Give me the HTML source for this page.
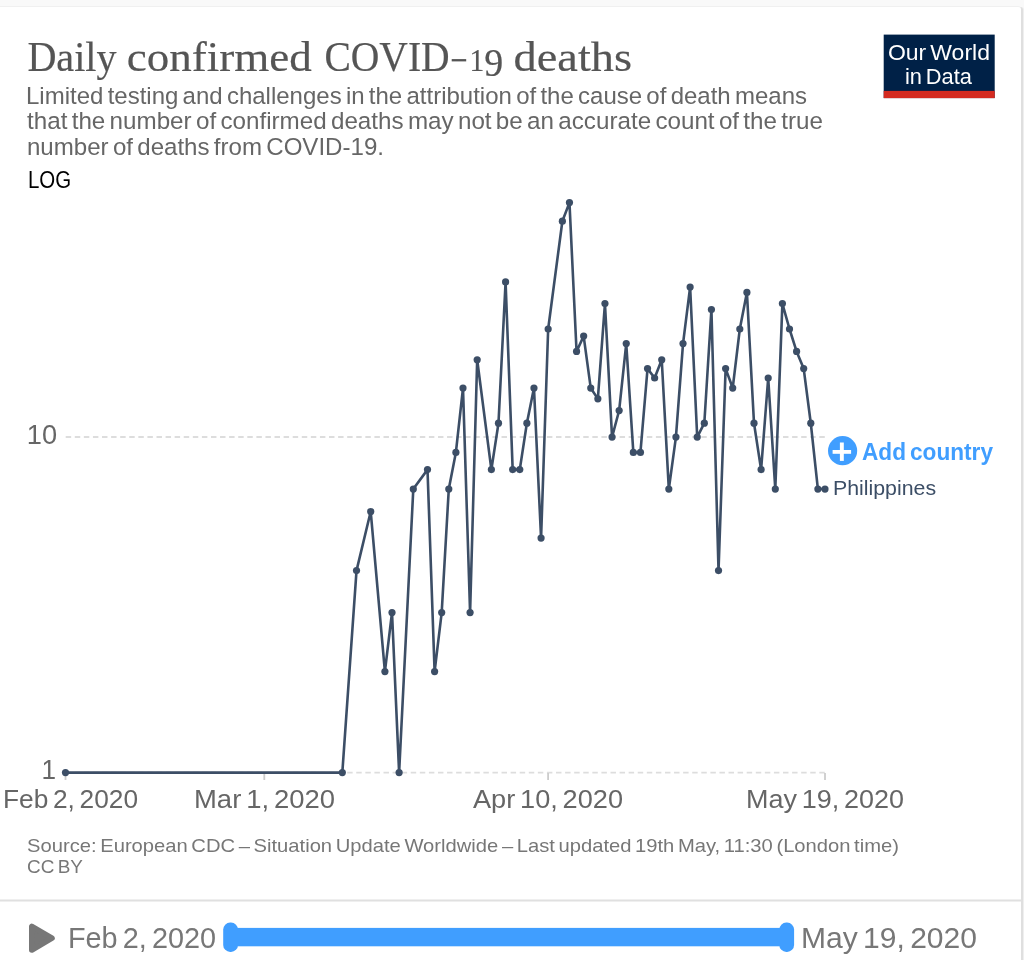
<!DOCTYPE html>
<html><head><meta charset="utf-8"><style>
html,body{margin:0;padding:0;background:#f9f9f9;}
body{width:1024px;height:960px;overflow:hidden;position:relative;}
.card{position:absolute;left:-10px;top:7px;width:1031px;height:1000px;background:#fff;border-radius:3px;box-shadow:0 -1px 0 #f0f0f0,2px 0 0 #dfdfdf,3px 0 0 #efefef;}
svg{position:absolute;left:0;top:0;will-change:transform;}
text{font-family:"Liberation Sans",sans-serif;word-spacing:-0.1em;}
text.serif{font-family:"Liberation Serif",serif;stroke:#555;stroke-width:0.2px;}
</style></head><body>
<div class="card"></div>
<svg width="1024" height="960" viewBox="0 0 1024 960">
<text id="t_daily" x="27.39" y="71.2" font-size="43" fill="#555" class="serif" textLength="89.22" lengthAdjust="spacingAndGlyphs">Daily</text><text id="t_confirmed" x="126.80" y="71.2" font-size="43" fill="#555" class="serif" textLength="185.01" lengthAdjust="spacingAndGlyphs">confirmed</text><text id="t_covid" x="324.38" y="71.2" font-size="43" fill="#555" class="serif" textLength="125.28" lengthAdjust="spacingAndGlyphs">COVID</text>
<rect x="451.7" y="59.1" width="14.5" height="2.3" fill="#555"/>
<text id="t_1" x="469.51" y="70.9" font-size="30.6" fill="#555" class="serif" textLength="14.75" lengthAdjust="spacingAndGlyphs">1</text><text id="t_9" x="484.28" y="76.4" font-size="39" fill="#555" class="serif" textLength="18.92" lengthAdjust="spacingAndGlyphs">9</text><text id="t_deaths" x="513.56" y="71.2" font-size="43" fill="#555" class="serif" textLength="118.46" lengthAdjust="spacingAndGlyphs">deaths</text>
<text id="sub1" x="26.00" y="104.1" font-size="23.9" fill="#666"  textLength="781.00" lengthAdjust="spacingAndGlyphs">Limited testing and challenges in the attribution of the cause of death means</text>
<text id="sub2" x="27.00" y="129.2" font-size="23.9" fill="#666"  textLength="796.00" lengthAdjust="spacingAndGlyphs">that the number of confirmed deaths may not be an accurate count of the true</text>
<text id="sub3" x="26.99" y="154.5" font-size="23.9" fill="#666"  textLength="357.00" lengthAdjust="spacingAndGlyphs">number of deaths from COVID-19.</text>
<text id="log" x="27.91" y="187.5" font-size="23.3" fill="#000"  textLength="43.18" lengthAdjust="spacingAndGlyphs">LOG</text>
<rect x="883.7" y="34.6" width="111" height="63.5" fill="#002147"/>
<rect x="883.7" y="90.9" width="111" height="7.2" fill="#d42b21"/>
<text id="ourworld" x="887.95" y="59.9" font-size="22.5" fill="#fff"  textLength="102.02" lengthAdjust="spacingAndGlyphs">Our World</text>
<text id="indata" x="904.96" y="84.1" font-size="22.5" fill="#fff"  textLength="67.04" lengthAdjust="spacingAndGlyphs">in Data</text>
<g stroke="#ddd" stroke-width="1.8" stroke-dasharray="5.45,3.63">
<line x1="65.7" y1="437" x2="825.5" y2="437"/>
<line x1="65.7" y1="772.7" x2="825.5" y2="772.7"/>
</g>
<g stroke="#ccc" stroke-width="1.8">
<line x1="65.5" y1="773" x2="65.5" y2="780"/>
<line x1="264.3" y1="773" x2="264.3" y2="780"/>
<line x1="548.1" y1="773" x2="548.1" y2="780"/>
<line x1="825.0" y1="773" x2="825.0" y2="780"/>
</g>
<text id="y10" x="26.82" y="443.6" font-size="28" fill="#666"  textLength="30.27" lengthAdjust="spacingAndGlyphs">10</text><text id="y1" x="41.60" y="779.4" font-size="28" fill="#666"  textLength="14.53" lengthAdjust="spacingAndGlyphs">1</text>
<text id="xfeb" x="2.96" y="808.1" font-size="26" fill="#666"  textLength="135.06" lengthAdjust="spacingAndGlyphs">Feb 2, 2020</text><text id="xmar" x="193.99" y="808.1" font-size="26" fill="#666"  textLength="141.06" lengthAdjust="spacingAndGlyphs">Mar 1, 2020</text><text id="xapr" x="472.99" y="808.1" font-size="26" fill="#666"  textLength="150.02" lengthAdjust="spacingAndGlyphs">Apr 10, 2020</text><text id="xmay" x="745.95" y="808.1" font-size="26" fill="#666"  textLength="158.05" lengthAdjust="spacingAndGlyphs">May 19, 2020</text>
<path d="M65.50,772.60 L342.32,772.60 L356.52,570.61 L370.71,511.53 L384.91,671.60 L392.01,612.53 L399.11,772.60 L413.30,489.07 L427.50,469.61 L434.60,671.60 L441.69,612.53 L448.79,489.07 L455.89,452.45 L462.99,388.07 L470.09,612.53 L477.18,359.78 L491.38,469.61 L498.48,423.21 L505.58,281.97 L512.67,469.61 L519.77,469.61 L526.87,423.21 L533.97,388.07 L541.07,538.10 L548.16,329.00 L562.36,221.22 L569.46,202.60 L576.56,351.46 L583.65,336.10 L590.75,388.07 L597.85,398.87 L604.95,303.59 L612.05,437.10 L619.14,410.53 L626.24,343.58 L633.34,452.45 L640.44,452.45 L647.54,368.62 L654.63,378.02 L661.73,359.78 L668.83,489.07 L675.93,437.10 L683.03,343.58 L690.12,287.08 L697.22,437.10 L704.32,423.21 L711.42,309.54 L718.52,570.61 L725.61,368.62 L732.71,388.07 L739.81,329.00 L746.91,292.38 L754.01,423.21 L761.10,469.61 L768.20,378.02 L775.30,489.07 L782.40,303.59 L789.50,329.00 L796.59,351.46 L803.69,368.62 L810.79,423.21 L817.89,489.07 L824.99,489.07" fill="none" stroke="#3c4e66" stroke-width="2.6" stroke-linejoin="round"/>
<g fill="#3c4e66"><circle cx="65.50" cy="772.60" r="3.6"/><circle cx="342.32" cy="772.60" r="3.6"/><circle cx="356.52" cy="570.61" r="3.6"/><circle cx="370.71" cy="511.53" r="3.6"/><circle cx="384.91" cy="671.60" r="3.6"/><circle cx="392.01" cy="612.53" r="3.6"/><circle cx="399.11" cy="772.60" r="3.6"/><circle cx="413.30" cy="489.07" r="3.6"/><circle cx="427.50" cy="469.61" r="3.6"/><circle cx="434.60" cy="671.60" r="3.6"/><circle cx="441.69" cy="612.53" r="3.6"/><circle cx="448.79" cy="489.07" r="3.6"/><circle cx="455.89" cy="452.45" r="3.6"/><circle cx="462.99" cy="388.07" r="3.6"/><circle cx="470.09" cy="612.53" r="3.6"/><circle cx="477.18" cy="359.78" r="3.6"/><circle cx="491.38" cy="469.61" r="3.6"/><circle cx="498.48" cy="423.21" r="3.6"/><circle cx="505.58" cy="281.97" r="3.6"/><circle cx="512.67" cy="469.61" r="3.6"/><circle cx="519.77" cy="469.61" r="3.6"/><circle cx="526.87" cy="423.21" r="3.6"/><circle cx="533.97" cy="388.07" r="3.6"/><circle cx="541.07" cy="538.10" r="3.6"/><circle cx="548.16" cy="329.00" r="3.6"/><circle cx="562.36" cy="221.22" r="3.6"/><circle cx="569.46" cy="202.60" r="3.6"/><circle cx="576.56" cy="351.46" r="3.6"/><circle cx="583.65" cy="336.10" r="3.6"/><circle cx="590.75" cy="388.07" r="3.6"/><circle cx="597.85" cy="398.87" r="3.6"/><circle cx="604.95" cy="303.59" r="3.6"/><circle cx="612.05" cy="437.10" r="3.6"/><circle cx="619.14" cy="410.53" r="3.6"/><circle cx="626.24" cy="343.58" r="3.6"/><circle cx="633.34" cy="452.45" r="3.6"/><circle cx="640.44" cy="452.45" r="3.6"/><circle cx="647.54" cy="368.62" r="3.6"/><circle cx="654.63" cy="378.02" r="3.6"/><circle cx="661.73" cy="359.78" r="3.6"/><circle cx="668.83" cy="489.07" r="3.6"/><circle cx="675.93" cy="437.10" r="3.6"/><circle cx="683.03" cy="343.58" r="3.6"/><circle cx="690.12" cy="287.08" r="3.6"/><circle cx="697.22" cy="437.10" r="3.6"/><circle cx="704.32" cy="423.21" r="3.6"/><circle cx="711.42" cy="309.54" r="3.6"/><circle cx="718.52" cy="570.61" r="3.6"/><circle cx="725.61" cy="368.62" r="3.6"/><circle cx="732.71" cy="388.07" r="3.6"/><circle cx="739.81" cy="329.00" r="3.6"/><circle cx="746.91" cy="292.38" r="3.6"/><circle cx="754.01" cy="423.21" r="3.6"/><circle cx="761.10" cy="469.61" r="3.6"/><circle cx="768.20" cy="378.02" r="3.6"/><circle cx="775.30" cy="489.07" r="3.6"/><circle cx="782.40" cy="303.59" r="3.6"/><circle cx="789.50" cy="329.00" r="3.6"/><circle cx="796.59" cy="351.46" r="3.6"/><circle cx="803.69" cy="368.62" r="3.6"/><circle cx="810.79" cy="423.21" r="3.6"/><circle cx="817.89" cy="489.07" r="3.6"/><circle cx="824.99" cy="489.07" r="3.6"/></g>
<circle cx="842.6" cy="450.7" r="14.6" fill="#409eff"/>
<rect x="832.6" y="450.0" width="18.5" height="3.8" fill="#fff"/>
<rect x="839.9" y="442.5" width="3.9" height="18.4" fill="#fff"/>
<text id="addc" x="861.99" y="459.5" font-size="23.5" fill="#409eff" font-weight="bold" textLength="131.01" lengthAdjust="spacingAndGlyphs">Add country</text>
<text id="phil" x="832.99" y="495.0" font-size="19.6" fill="#3c4e66"  textLength="103.06" lengthAdjust="spacingAndGlyphs">Philippines</text>
<text id="src1" x="27.00" y="851.9" font-size="19" fill="#777"  textLength="872.00" lengthAdjust="spacingAndGlyphs">Source: European CDC – Situation Update Worldwide – Last updated 19th May, 11:30 (London time)</text>
<text id="src2" x="26.96" y="873.4" font-size="19" fill="#777"  textLength="56.03" lengthAdjust="spacingAndGlyphs">CC BY</text>
<line x1="0" y1="900.5" x2="1021" y2="900.5" stroke="#e0e0e0" stroke-width="2"/>
<path d="M31.8,926.4 L31.8,950 L52,938.2 Z" fill="#777" stroke="#777" stroke-width="5.6" stroke-linejoin="round"/>
<text id="tlfeb" x="67.96" y="948.0" font-size="29" fill="#777"  textLength="148.06" lengthAdjust="spacingAndGlyphs">Feb 2, 2020</text>
<rect x="230" y="927.9" width="556" height="18.4" fill="#409eff"/>
<rect x="223.2" y="922.6" width="14.8" height="29.3" rx="7" fill="#409eff"/>
<rect x="779.3" y="922.6" width="14.8" height="29.3" rx="7" fill="#409eff"/>
<text id="tlmay" x="800.98" y="948.0" font-size="29" fill="#777"  textLength="176.03" lengthAdjust="spacingAndGlyphs">May 19, 2020</text>
</svg>
</body></html>
